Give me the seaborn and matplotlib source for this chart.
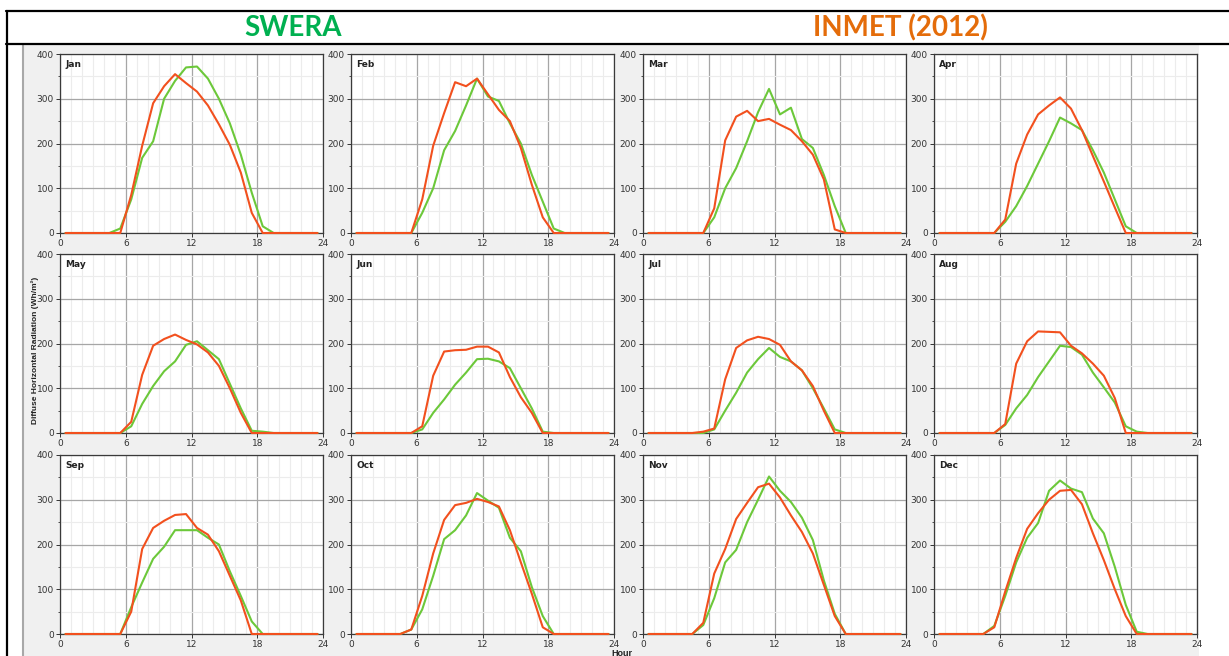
import matplotlib
matplotlib.use("Agg")
import matplotlib.pyplot as plt
from matplotlib.lines import Line2D
from matplotlib.patches import Rectangle
from matplotlib.ticker import MultipleLocator
import pandas as pd
import seaborn as sns

sns.set_style("white")
plt.rcParams["font.family"] = ["DejaVu Sans"]

months = ["Jan", "Feb", "Mar", "Apr", "May", "Jun",
          "Jul", "Aug", "Sep", "Oct", "Nov", "Dec"]

# hour-of-day midpoints (h)
hours = [0.5, 1.5, 2.5, 3.5, 4.5, 5.5, 6.5, 7.5, 8.5, 9.5, 10.5, 11.5,
         12.5, 13.5, 14.5, 15.5, 16.5, 17.5, 18.5, 19.5, 20.5, 21.5, 22.5, 23.5]

# SWERA diffuse horizontal radiation (Wh/m2), one row per month
swera = [
    [0, 0, 0, 0, 0, 10, 75, 168, 205, 300, 340, 370, 372, 345, 300, 245, 175, 90, 15, 0, 0, 0, 0, 0],
    [0, 0, 0, 0, 0, 0, 45, 100, 185, 228, 285, 345, 305, 295, 245, 200, 130, 70, 10, 0, 0, 0, 0, 0],
    [0, 0, 0, 0, 0, 0, 35, 100, 145, 205, 270, 322, 265, 280, 210, 190, 130, 60, 0, 0, 0, 0, 0, 0],
    [0, 0, 0, 0, 0, 0, 25, 60, 105, 155, 205, 258, 245, 230, 185, 135, 75, 15, 0, 0, 0, 0, 0, 0],
    [0, 0, 0, 0, 0, 0, 15, 65, 105, 138, 160, 197, 205, 185, 165, 110, 55, 5, 3, 0, 0, 0, 0, 0],
    [0, 0, 0, 0, 0, 0, 8, 45, 75, 108, 135, 165, 166, 160, 145, 100, 55, 3, 0, 0, 0, 0, 0, 0],
    [0, 0, 0, 0, 0, 0, 8, 50, 90, 135, 165, 190, 170, 160, 140, 100, 55, 8, 0, 0, 0, 0, 0, 0],
    [0, 0, 0, 0, 0, 0, 18, 55, 85, 125, 160, 195, 192, 175, 135, 102, 68, 15, 3, 0, 0, 0, 0, 0],
    [0, 0, 0, 0, 0, 0, 60, 115, 168, 195, 232, 232, 232, 215, 200, 140, 85, 28, 0, 0, 0, 0, 0, 0],
    [0, 0, 0, 0, 0, 10, 55, 130, 212, 232, 265, 315, 298, 282, 215, 185, 105, 40, 0, 0, 0, 0, 0, 0],
    [0, 0, 0, 0, 0, 20, 80, 160, 188, 250, 300, 352, 320, 295, 260, 210, 120, 45, 0, 0, 0, 0, 0, 0],
    [0, 0, 0, 0, 0, 18, 85, 160, 215, 248, 320, 343, 325, 317, 258, 225, 150, 65, 5, 0, 0, 0, 0, 0],
]

# INMET (2012) diffuse horizontal radiation (Wh/m2), one row per month
inmet = [
    [0, 0, 0, 0, 0, 0, 85, 195, 290, 328, 355, 335, 316, 285, 243, 197, 135, 45, 0, 0, 0, 0, 0, 0],
    [0, 0, 0, 0, 0, 0, 75, 195, 268, 337, 328, 345, 310, 275, 250, 190, 108, 35, 0, 0, 0, 0, 0, 0],
    [0, 0, 0, 0, 0, 0, 55, 207, 260, 273, 250, 255, 242, 230, 205, 175, 120, 8, 0, 0, 0, 0, 0, 0],
    [0, 0, 0, 0, 0, 0, 30, 155, 220, 265, 285, 303, 278, 230, 172, 115, 57, 0, 0, 0, 0, 0, 0, 0],
    [0, 0, 0, 0, 0, 0, 25, 130, 195, 210, 220, 208, 198, 180, 150, 100, 45, 0, 0, 0, 0, 0, 0, 0],
    [0, 0, 0, 0, 0, 0, 15, 128, 182, 185, 186, 193, 193, 180, 125, 80, 45, 0, 0, 0, 0, 0, 0, 0],
    [0, 0, 0, 0, 0, 3, 10, 120, 190, 207, 215, 210, 197, 160, 140, 105, 50, 0, 0, 0, 0, 0, 0, 0],
    [0, 0, 0, 0, 0, 0, 20, 155, 205, 227, 226, 225, 195, 178, 155, 128, 78, 0, 0, 0, 0, 0, 0, 0],
    [0, 0, 0, 0, 0, 0, 50, 190, 237, 253, 266, 268, 237, 222, 185, 130, 75, 0, 0, 0, 0, 0, 0, 0],
    [0, 0, 0, 0, 0, 10, 85, 180, 255, 288, 293, 302, 295, 285, 232, 160, 90, 15, 0, 0, 0, 0, 0, 0],
    [0, 0, 0, 0, 0, 25, 135, 190, 257, 293, 328, 336, 305, 265, 228, 180, 110, 40, 0, 0, 0, 0, 0, 0],
    [0, 0, 0, 0, 0, 15, 95, 170, 235, 270, 300, 320, 322, 290, 225, 165, 100, 40, 0, 0, 0, 0, 0, 0],
]

sources = ["SWERA", "INMET (2012)"]
line_colors = {"SWERA": "#6cc83a", "INMET (2012)": "#f2501e"}
header_colors = {"SWERA": "#00b050", "INMET (2012)": "#e46c0a"}

records = []
for m, name in enumerate(months):
    for src, table in zip(sources, (swera, inmet)):
        for h, v in zip(hours, table[m]):
            records.append({"month": name, "source": src, "hour": h, "value": v})
df = pd.DataFrame(records)

W, H = 1229, 656
fig = plt.figure(figsize=(W / 100, H / 100), dpi=100)
fig.patch.set_facecolor("white")


def fx(px):
    return px / W


def fy(py):
    return 1 - py / H


# grey chart backdrop, kept beneath the axes
fig.patches.append(Rectangle((fx(22), 0), fx(1199) - fx(22), fy(45),
                             transform=fig.transFigure, facecolor="#f0f0f0",
                             edgecolor="none", zorder=-10))
fig.lines.append(Line2D([fx(23), fx(23)], [0, fy(45)], transform=fig.transFigure,
                        color="#a8a8a8", lw=1.5, zorder=-9))

# header frame
for y in (11, 44):
    fig.lines.append(Line2D([fx(6), 1], [fy(y), fy(y)], transform=fig.transFigure,
                            color="black", lw=1.6, zorder=5))
fig.lines.append(Line2D([fx(7), fx(7)], [fy(11), 0], transform=fig.transFigure,
                        color="black", lw=1.6, zorder=5))

fig.text(fx(293), fy(28), "SWERA", color=header_colors["SWERA"], fontsize=20,
         fontweight="bold", family="Lato", ha="center", va="center")
fig.text(fx(900), fy(28), "INMET (2012)", color=header_colors["INMET (2012)"],
         fontsize=20, fontweight="bold", family="Lato", ha="center", va="center")

col_left = [60, 351, 643, 934]
row_top = [54, 254, 455]
ax_w, ax_h = 263, 179

for m, name in enumerate(months):
    r, c = divmod(m, 4)
    left, top = col_left[c], row_top[r]
    ax = fig.add_axes([fx(left), fy(top + ax_h), fx(ax_w), ax_h / H])
    ax.set_facecolor("white")
    sub = df[df["month"] == name]
    sns.lineplot(data=sub, x="hour", y="value", hue="source", hue_order=sources,
                 palette=line_colors, lw=1.5, legend=False, ax=ax, clip_on=False,
                 zorder=4)
    ax.set_xlim(0, 24)
    ax.set_ylim(0, 400)
    ax.xaxis.set_major_locator(MultipleLocator(6))
    ax.xaxis.set_minor_locator(MultipleLocator(1))
    ax.yaxis.set_major_locator(MultipleLocator(100))
    ax.yaxis.set_minor_locator(MultipleLocator(50))
    ax.grid(which="major", color="#a6a6a6", lw=0.9, zorder=1)
    ax.grid(which="minor", color="#ececec", lw=0.8, zorder=0)
    ax.set_axisbelow(True)
    ax.tick_params(axis="both", which="major", labelsize=6.5, length=3,
                   width=0.7, pad=1.5, colors="#333333", direction="out",
                   left=True, bottom=True)
    ax.tick_params(axis="y", which="minor", length=1.5, width=0.6,
                   colors="#333333", left=True)
    ax.tick_params(axis="x", which="minor", length=0)
    for sp in ax.spines.values():
        sp.set_color("#3a3a3a")
        sp.set_linewidth(0.9)
    ax.set_xlabel("")
    ax.set_ylabel("")
    ax.text(0.02, 0.965, name, transform=ax.transAxes, fontsize=6.5,
            fontweight="bold", ha="left", va="top", color="#222222")

fig.text(fx(35), fy(350), "Diffuse Horizontal Radiation (Wh/m²)", rotation=90,
         fontsize=6, fontweight="bold", family="Liberation Sans",
         ha="center", va="center", color="#222222")
fig.text(fx(622), fy(649), "Hour", fontsize=6.5, fontweight="bold",
         family="Liberation Sans", ha="center", va="top", color="#222222")

fig.savefig("out.png", dpi=100, facecolor="white")
